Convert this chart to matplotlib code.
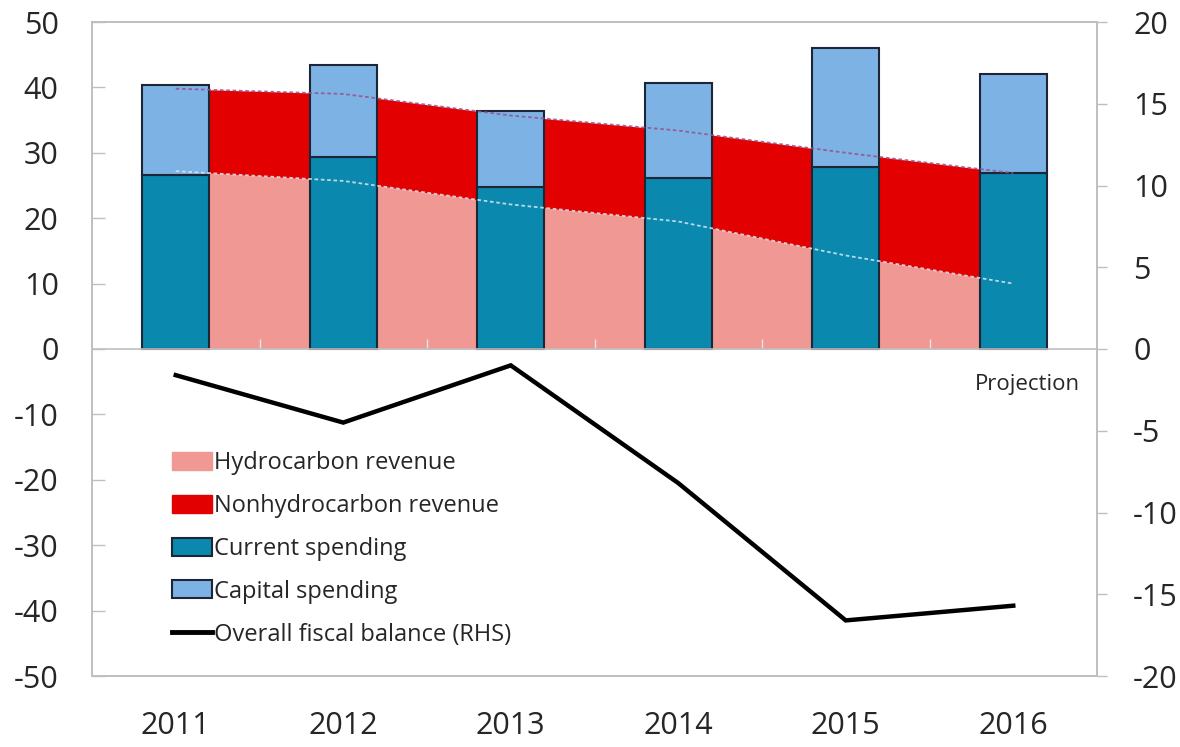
import numpy as np
import matplotlib
matplotlib.use('Agg')
import matplotlib.pyplot as plt
from matplotlib.patches import Patch
from matplotlib.lines import Line2D

plt.rcParams['font.family'] = ['Open Sans', 'DejaVu Sans']
plt.rcParams['axes.unicode_minus'] = False

years = ['2011', '2012', '2013', '2014', '2015', '2016']

# percent of non-hydrocarbon GDP (left axis)
hydro_revenue = [27.2, 25.7, 22.1, 19.5, 14.3, 10.0]
nonhydro_revenue = [12.6, 13.3, 13.6, 13.9, 15.7, 16.9]
current_spending = [26.6, 29.3, 24.7, 26.1, 27.8, 26.9]
capital_spending = [13.7, 14.1, 11.7, 14.6, 18.2, 15.1]

# percent of GDP (right axis)
fiscal_balance = [-1.6, -4.5, -1.0, -8.2, -16.6, -15.7]

c_hydro = '#F09893'
c_nonhydro = '#E20000'
c_current = '#0A88AE'
c_capital = '#7CB3E4'
c_edge = '#1C2636'
c_frame = '#BFBFBF'
c_text = '#262626'

x = np.arange(len(years))
hydro = np.array(hydro_revenue)
total_rev = hydro + np.array(nonhydro_revenue)

fig = plt.figure(figsize=(11.8, 7.47), dpi=100)
ax = fig.add_axes([92 / 1180, 71 / 747, 1005 / 1180, 654 / 747])

# revenue as stacked areas behind the bars
ax.fill_between(x, 0, hydro, color=c_hydro, lw=0, zorder=1)
ax.fill_between(x, hydro, total_rev, color=c_nonhydro, lw=0, zorder=1)

# spending as stacked bars
ax.bar(x, current_spending, width=0.4, color=c_current, edgecolor=c_edge, lw=1.5, zorder=2)
ax.bar(x, capital_spending, width=0.4, bottom=current_spending, color=c_capital,
       edgecolor=c_edge, lw=1.5, zorder=2)

# area edges showing through the bars
ax.plot(x, total_rev, color='#9A4E8C', lw=1.3, ls=(0, (2, 1.5)), alpha=0.85, zorder=3)
ax.plot(x, hydro, color='#D8E8F2', lw=1.3, ls=(0, (2, 1.5)), alpha=0.85, zorder=3)

ax.axhline(0, color=c_frame, lw=1.2, zorder=2.5)
ax.vlines(x[:-1] + 0.5, 0, 1.5, color='#E6E6E6', lw=1, zorder=1.5)

ax.set_xlim(-0.5, 5.5)
ax.set_ylim(-50, 50)
ax.set_yticks(np.arange(-50, 51, 10))
ax.set_xticks(x)
ax.set_xticklabels(years)
ax.tick_params(axis='x', length=0, pad=25, labelsize=22, labelcolor=c_text)
ax.tick_params(axis='y', direction='in', length=9, width=1, color=c_frame,
               pad=24, labelsize=22, labelcolor=c_text)
for side in ['left', 'right', 'top', 'bottom']:
    ax.spines[side].set_color(c_frame)
    ax.spines[side].set_linewidth(1.2)

ax2 = ax.twinx()
ax2.plot(x, fiscal_balance, color='black', lw=3.2, solid_joinstyle='miter', zorder=4)
ax2.set_ylim(-20, 20)
ax2.set_yticks(np.arange(-20, 21, 5))
ax2.tick_params(axis='y', direction='out', length=7, width=1, color=c_frame,
                pad=19, labelsize=22, labelcolor=c_text)
for side in ['left', 'right', 'top', 'bottom']:
    ax2.spines[side].set_color(c_frame)
    ax2.spines[side].set_linewidth(1.2)

ax2.text(5.4, -2.2, 'Projection', ha='right', va='center', fontsize=16, color=c_text)

handles = [
    Patch(facecolor=c_hydro, edgecolor=c_hydro),
    Patch(facecolor=c_nonhydro, edgecolor=c_nonhydro),
    Patch(facecolor=c_current, edgecolor=c_edge, lw=1.5),
    Patch(facecolor=c_capital, edgecolor=c_edge, lw=1.5),
    Line2D([0], [0], color='black', lw=3.5),
]
labels = ['Hydrocarbon revenue', 'Nonhydrocarbon revenue', 'Current spending',
          'Capital spending', 'Overall fiscal balance (RHS)']
leg = fig.legend(handles, labels, loc='upper left', bbox_to_anchor=(172 / 1180, 1 - 451 / 747),
                 frameon=False, fontsize=17, handlelength=1.7, handleheight=0.8,
                 handletextpad=0.1, labelspacing=0.8, borderaxespad=0, borderpad=0)
for t in leg.get_texts():
    t.set_color(c_text)

fig.savefig('out.png', dpi=100)
